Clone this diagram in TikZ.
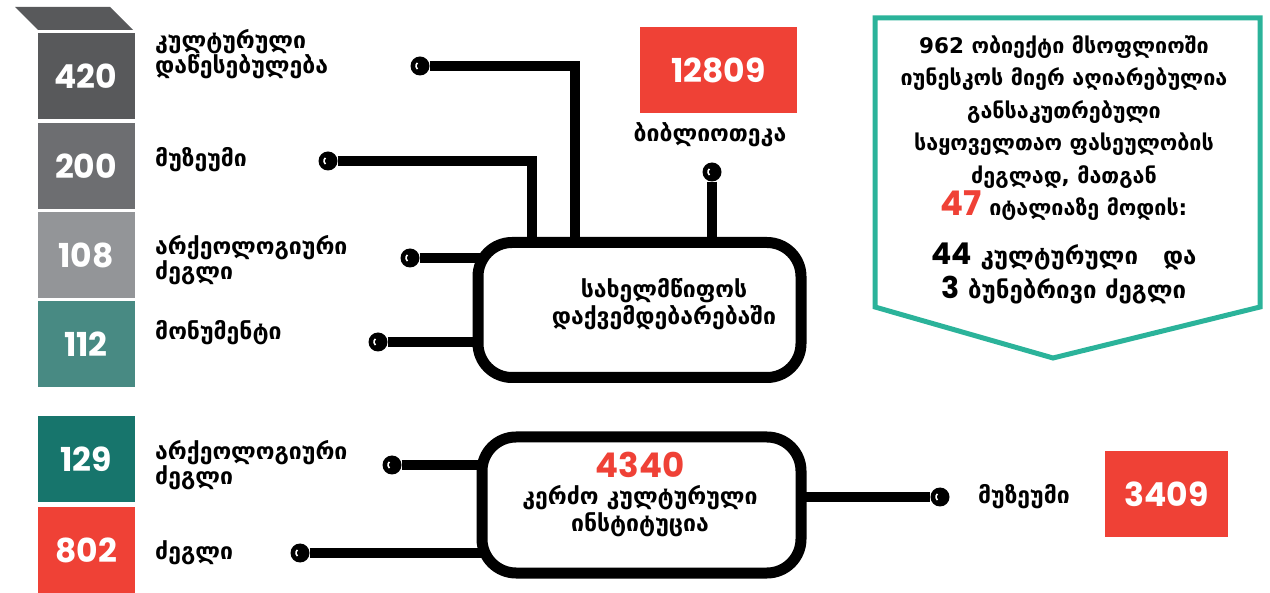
\documentclass[tikz,border=0pt]{standalone}
\usepackage{fontspec}
\setmainfont{DejaVu Sans}
\newfontfamily\numfont{Poppins}
\usetikzlibrary{positioning,backgrounds}
\definecolor{darkgr}{HTML}{58595B}
\definecolor{midgr}{HTML}{6D6E71}
\definecolor{lightgr}{HTML}{939598}
\definecolor{greyteal}{HTML}{488A83}
\definecolor{deepteal}{HTML}{17756C}
\definecolor{numred}{HTML}{EF4136}
\definecolor{unesco}{HTML}{2BB39A}
\begin{document}
\begin{tikzpicture}[x=1pt,y=-1pt,
    numbox/.style={minimum width=97pt,minimum height=86pt,inner sep=0pt,text=white,font=\numfont\bfseries\fontsize{33}{33}\selectfont},
    redbox/.style={numbox,fill=numred},
    lbl/.style={anchor=west,align=left,inner sep=0pt,font=\bfseries\fontsize{23}{25}\selectfont},
    ring/.style={circle,fill=black,minimum size=19pt,inner sep=0pt,
      path picture={\draw[white,line width=1.6pt] ([shift={(130:4pt)}]path picture bounding box.center) arc (130:230:4pt);}},
    wire/.style={line width=10pt},
    hub/.style={draw,fill=white,line width=11pt,rounded corners=34pt,inner sep=0pt},
    hubtext/.style={align=center,font=\bfseries\fontsize{23}{27}\selectfont}]
  \useasboundingbox (0,0) rectangle (1270,593);

  \fill[darkgr] (15,7) -- (110,7) -- (133,30) -- (38,30) -- cycle;
  \node[numbox,fill=darkgr]   (n420) at (86,76.5)  {420};
  \node[numbox,fill=midgr]    (n200) at (86,166.5) {200};
  \node[numbox,fill=lightgr]  (n108) at (86,255.5) {108};
  \node[numbox,fill=greyteal] (n112) at (86,344.5) {112};
  \node[numbox,fill=deepteal] (n129) at (86,459)   {129};
  \node[redbox]               (n802) at (86,550.5) {802};

  \node[lbl] (l420) at (155,54)  {კულტურული\\დაწესებულება};
  \node[lbl] (l200) at (155,160) {მუზეუმი};
  \node[lbl] (l108) at (155,260) {არქეოლოგიური\\ძეგლი};
  \node[lbl] (l112) at (155,333) {მონუმენტი};
  \node[lbl] (l129) at (155,465) {არქეოლოგიური\\ძეგლი};
  \node[lbl] (l802) at (155,553) {ძეგლი};

  \node[hub,minimum width=323pt,minimum height=135pt] (gov) at (639.5,310) {};
  \node[hubtext] (govtxt) at (664,304) {სახელმწიფოს\\დაქვემდებარებაში};
  \node[hub,minimum width=319pt,minimum height=136pt] (priv) at (641.5,505) {};
  \node[hubtext] (privtxt) at (640,494) {{\numfont\fontsize{34}{34}\selectfont\color{numred}4340}\\კერძო კულტურული\\ინსტიტუცია};

  \node[redbox,minimum width=157pt] (lib) at (718.5,70.5) {12809};
  \node[lbl,anchor=center] (libtxt) at (710,135) {ბიბლიოთეკა};
  \node[redbox,minimum width=123pt] (mus) at (1166.5,494.5) {3409};
  \node[lbl,anchor=center] (mustxt) at (1024,497) {მუზეუმი};

  \node[ring] (r420) at (420,66)  {};
  \node[ring] (r200) at (328,161) {};
  \node[ring] (r108) at (410,258) {};
  \node[ring] (r112) at (378,342) {};
  \node[ring] (rlib) at (712,172) {};
  \node[ring] (r129) at (392,465) {};
  \node[ring] (r802) at (300,553) {};
  \node[ring] (rmus) at (940,497) {};

  \begin{scope}[on background layer]
    \draw[wire] (r420) -| ([xshift=-64.5pt]gov.center);
    \draw[wire] (r200) -| ([xshift=-107.5pt]gov.center);
    \draw[wire] (r108) -- (r108 -| gov.center);
    \draw[wire] (r112) -- (r112 -| gov.center);
    \draw[wire] (rlib) -- (rlib |- gov.center);
    \draw[wire] (r129) -- (r129 -| priv.center);
    \draw[wire] (r802) -- (r802 -| priv.center);
    \draw[wire] (rmus -| priv.center) -- (rmus);
  \end{scope}

  \draw[unesco,line width=5pt] (875,18) -- (1260,18) -- (1260,307) -- (1053,358) -- (875,307) -- cycle;
  \node[align=center,font=\bfseries\fontsize{21.5}{32.5}\selectfont] (untop) at (1064,128)
    {962 ობიექტი მსოფლიოში\\იუნესკოს მიერ აღიარებულია\\განსაკუთრებული\\საყოველთაო ფასეულობის\\ძეგლად, მათგან\\{\numfont\fontsize{34}{34}\selectfont\color{numred}47} იტალიაზე მოდის:};
  \node[align=center,font=\bfseries\fontsize{24}{34}\selectfont] (unbot) at (1064,273)
    {{\numfont\fontsize{30}{30}\selectfont 44} კულტურული \ \ და\\{\numfont\fontsize{30}{30}\selectfont 3} ბუნებრივი ძეგლი};
\end{tikzpicture}
\end{document}
